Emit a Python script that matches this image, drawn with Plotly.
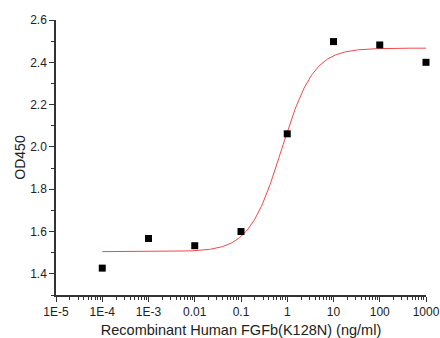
import numpy as np
import plotly.graph_objects as go

# measured points
conc = [1e-4, 1e-3, 0.01, 0.1, 1, 10, 100, 1000]
od450 = [1.427, 1.567, 1.533, 1.600, 2.062, 2.498, 2.482, 2.400]

# 4PL fit parameters
fit_bottom = 1.505
fit_top = 2.467
fit_ec50 = 0.75
fit_hill = 1.25

tick_vals = [1e-5, 1e-4, 1e-3, 0.01, 0.1, 1, 10, 100, 1000]
tick_text = ["1E-5", "1E-4", "1E-3", "0.01", "0.1", "1", "10", "100", "1000"]

xs = np.logspace(-4, 3, 300)
ys = fit_bottom + (fit_top - fit_bottom) / (1 + (fit_ec50 / xs) ** fit_hill)

minor_vals = [m * 10.0 ** e for e in range(-5, 3) for m in range(2, 10)]

fig = go.Figure()
fig.add_trace(go.Scatter(x=xs, y=ys, mode="lines",
                         line=dict(color="#f04848", width=1), hoverinfo="skip"))
fig.add_trace(go.Scatter(x=conc, y=od450, mode="markers", cliponaxis=False,
                         marker=dict(symbol="square", size=7, color="black")))

font_name = "Liberation Sans, Arial, sans-serif"
axis_font = dict(family=font_name, size=12, color="#222")

fig.update_xaxes(
    type="log", range=[-5, 3], automargin=False,
    tickmode="array", tickvals=tick_vals, ticktext=tick_text,
    ticks="outside", ticklen=5, tickwidth=1.2, tickcolor="#333",
    minor=dict(tickmode="array", tickvals=minor_vals, ticks="outside",
               ticklen=3, tickwidth=1, tickcolor="#333"),
    showline=True, linecolor="#333", linewidth=1.5, showgrid=False, zeroline=False,
    tickfont=axis_font,
    title=dict(text="Recombinant Human FGFb(K128N) (ng/ml)",
               font=dict(family=font_name, size=14.5, color="#222"), standoff=7),
)
fig.update_yaxes(
    range=[1.3, 2.6], automargin=False,
    tickmode="array", tickvals=[1.4, 1.6, 1.8, 2.0, 2.2, 2.4, 2.6],
    tickformat=".1f",
    ticks="outside", ticklen=5, tickwidth=1.2, tickcolor="#333",
    minor=dict(dtick=0.1, ticks="outside", ticklen=3, tickwidth=1, tickcolor="#333"),
    showline=True, linecolor="#333", linewidth=1.5, showgrid=False, zeroline=False,
    tickfont=axis_font,
    title=dict(text="OD450", font=dict(family=font_name, size=14, color="#222"),
               standoff=1),
)
fig.update_layout(
    width=440, height=338,
    margin=dict(l=56, r=14, t=20, b=43),
    plot_bgcolor="white", paper_bgcolor="white",
    showlegend=False,
)
fig.write_html("out.html", config={"displayModeBar": False},
               post_script="document.body.style.margin='0';")
